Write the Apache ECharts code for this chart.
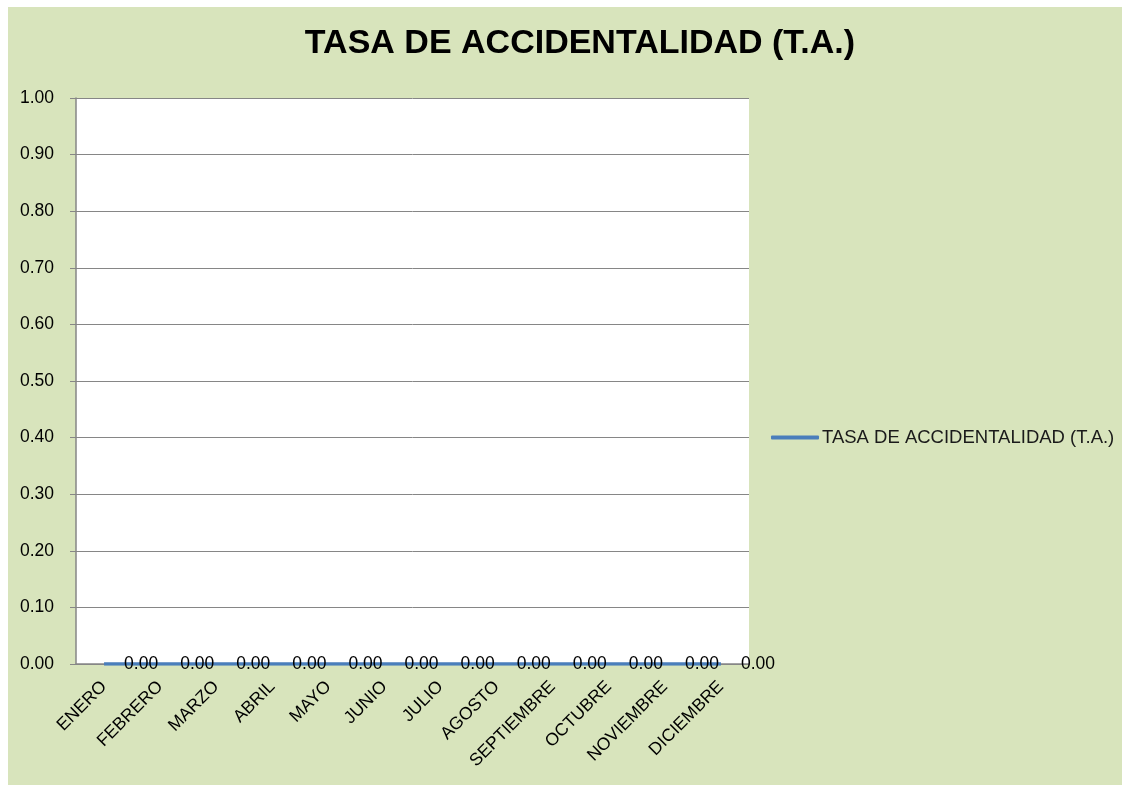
<!DOCTYPE html>
<html lang="es">
<head>
<meta charset="utf-8">
<title>Tasa de accidentalidad</title>
<script src="https://cdn.jsdelivr.net/npm/echarts@6/dist/echarts.min.js"></script>
<style>
  html, body {
    margin: 0;
    padding: 0;
    background: #ffffff;
  }
  .chart {
    position: absolute;
    left: 8px;
    top: 7px;
    width: 1114px;
    height: 778px;
    background: #d8e4bc;
  }
</style>
</head>
<body>
<div id="chart" class="chart"></div>
<script>
const months = ['ENERO', 'FEBRERO', 'MARZO', 'ABRIL', 'MAYO', 'JUNIO', 'JULIO', 'AGOSTO',
  'SEPTIEMBRE', 'OCTUBRE', 'NOVIEMBRE', 'DICIEMBRE']
const tasa = [0, 0, 0, 0, 0, 0, 0, 0, 0, 0, 0, 0]
const yMin = 0
const yMax = 1
const yStep = 0.1

const seriesName = 'TASA DE ACCIDENTALIDAD (T.A.)'
const font = "'Liberation Sans', Arial, sans-serif"
const text1 = '#000000'
const gridColor = '#868686'
const lineColor = '#4a7ebb'

const chart = echarts.init(document.getElementById('chart'), undefined, { renderer: 'canvas' })

chart.setOption({
  backgroundColor: 'transparent',
  animation: false,
  textStyle: { fontFamily: font },
  title: {
    text: seriesName,
    left: 572,
    top: 20,
    padding: 0,
    textAlign: 'center',
    textStyle: { fontFamily: font, fontSize: 34, fontWeight: 'bold', color: text1 }
  },
  legend: {
    left: 763,
    top: 421,
    padding: 0,
    icon: 'roundRect',
    itemWidth: 48,
    itemHeight: 4,
    textStyle: { fontFamily: font, fontSize: 18.5, color: '#1a1a1a', padding: [0, 0, 0, -2] },
    data: [seriesName]
  },
  grid: { left: 68, top: 91, right: 373, bottom: 121, containLabel: false, backgroundColor: '#ffffff', show: true, borderWidth: 0 },
  xAxis: {
    type: 'category',
    boundaryGap: true,
    data: months,
    axisLine: { lineStyle: { color: gridColor, width: 1.5 } },
    axisTick: { show: false },
    axisLabel: { color: text1, fontSize: 17.5, rotate: 45, margin: 20, interval: 0 }
  },
  yAxis: {
    type: 'value',
    min: yMin,
    max: yMax,
    interval: yStep,
    axisLine: { show: true, lineStyle: { color: gridColor, width: 1.5 } },
    axisTick: { show: true, length: 6, lineStyle: { color: gridColor } },
    axisLabel: { color: text1, fontSize: 17.5, margin: 22, formatter: (v) => v.toFixed(2) },
    splitLine: { lineStyle: { color: gridColor, width: 1 } }
  },
  series: [
    {
      name: seriesName,
      type: 'line',
      data: tasa,
      symbol: 'circle',
      symbolSize: 0.1,
      showSymbol: true,
      lineStyle: { width: 3.5, color: lineColor },
      itemStyle: { color: lineColor },
      label: {
        show: true,
        position: 'right',
        distance: 20,
        color: text1,
        fontSize: 17.5,
        formatter: (p) => p.value.toFixed(2)
      }
    }
  ]
})
</script>
</body>
</html>
